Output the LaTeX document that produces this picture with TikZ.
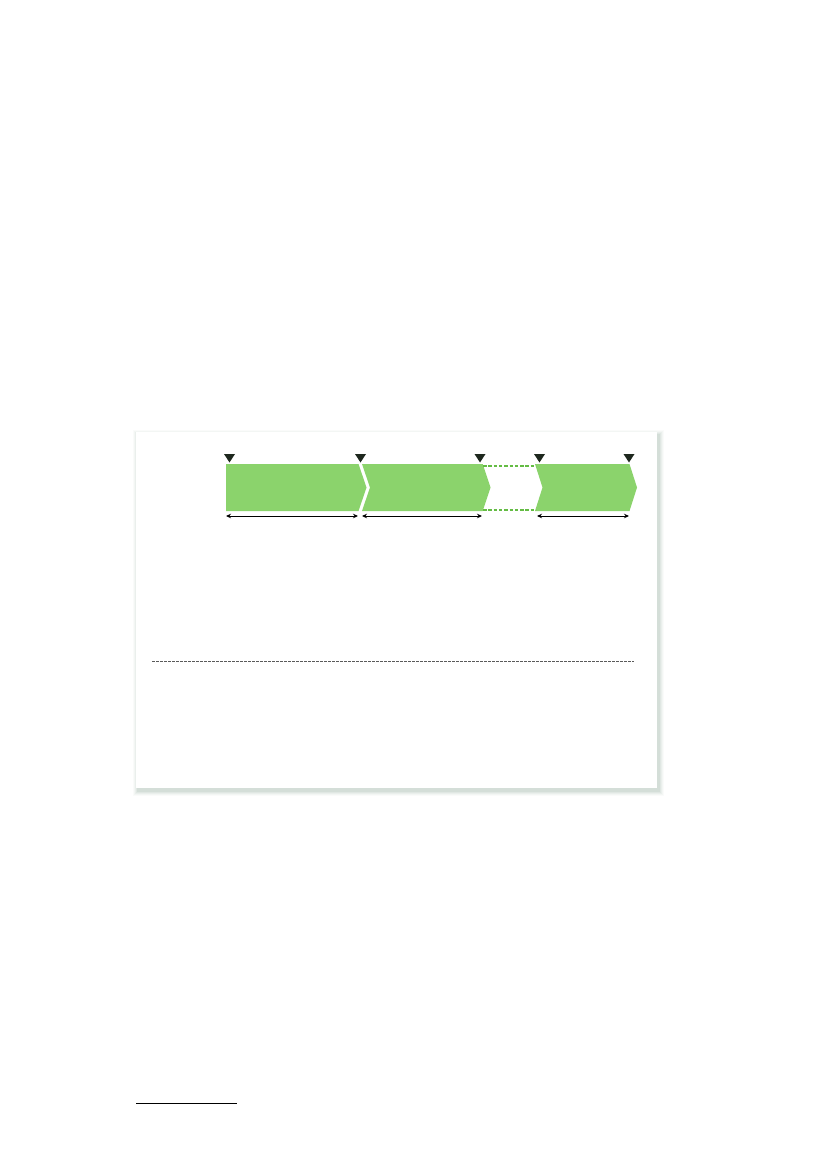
\documentclass[tikz,border=0pt]{standalone}
\usetikzlibrary{arrows.meta}
\definecolor{barGreen}{RGB}{139,211,108}
\definecolor{dashGreen}{RGB}{100,188,68}
\definecolor{markDark}{RGB}{30,40,30}
\definecolor{shadowCol}{RGB}{150,175,160}
\definecolor{sepGrey}{RGB}{90,90,90}
\tikzset{
  barshape/.style={fill=barGreen, draw=none},
  gapline/.style={dashGreen, line width=1.6pt, dash pattern=on 3.5pt off 1.8pt},
  marker/.style={fill=markDark, draw=none},
  spanarrow/.style={black, line width=0.9pt, {Stealth[length=5pt,width=4.5pt]}-{Stealth[length=5pt,width=4.5pt]}},
  seprule/.style={sepGrey, line width=0.7pt, dash pattern=on 2.5pt off 1.5pt},
  footrule/.style={black, line width=1pt}
}
\begin{document}
\begin{tikzpicture}[x=1pt,y=-1pt]
\useasboundingbox (0,0) rectangle (827,1169);
% shadow of the frame
\foreach \d/\o in {5/0.05,4/0.07,3/0.09,2/0.12,1/0.16}{
  \fill[shadowCol, opacity=\o] (136-\d+1.5,432-\d+2.5) rectangle (657+\d+1.5,788+\d+2.5);
}
% frame
\node[draw=none, fill=white, minimum width=521pt, minimum height=356pt, inner sep=0pt, anchor=north west] (frame) at (136,432) {};
% bars
\fill[barshape] (226,464) -- (358.5,464) -- (366.5,487.5) -- (358.5,511) -- (226,511) -- cycle;
\fill[barshape] (362,464) -- (482.7,464) -- (490.5,487.5) -- (482.7,511) -- (362,511) -- (370,487.5) -- cycle;
\fill[barshape] (535,464) -- (629.5,464) -- (637,487.5) -- (629.5,511) -- (535,511) -- (542.5,487.5) -- cycle;
% dashed outline of the omitted stage
\coordinate (gt1) at (483,465.8);
\coordinate (gt2) at (536,465.8);
\coordinate (gb1) at (483,510.2);
\coordinate (gb2) at (536,510.2);
\draw[gapline] (gt1) -- (gt2);
\draw[gapline] (gb1) -- (gb2);
% markers
\foreach \x in {229.5,360.5,480,539.5,629}{
  \fill[marker] (\x-5.5,454) -- (\x+5.5,454) -- (\x,462.5) -- cycle;
}
% span arrows
\coordinate (a1) at (226,516);
\coordinate (a2) at (358,516);
\coordinate (b1) at (362,516);
\coordinate (b2) at (482,516);
\coordinate (c1) at (537,516);
\coordinate (c2) at (629,516);
\draw[spanarrow] (a1) -- (a2);
\draw[spanarrow] (b1) -- (b2);
\draw[spanarrow] (c1) -- (c2);
% separator
\coordinate (s1) at (152,661);
\coordinate (s2) at (634,661);
\draw[seprule] (s1) -- (s2);
% footnote rule
\coordinate (f1) at (136,1103.3);
\coordinate (f2) at (237,1103.3);
\draw[footrule] (f1) -- (f2);
\end{tikzpicture}
\end{document}
